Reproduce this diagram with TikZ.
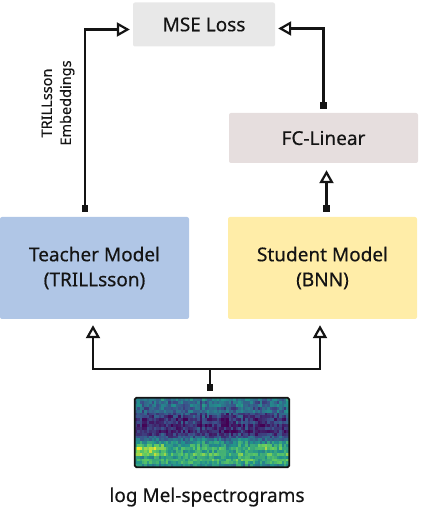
\documentclass[tikz,border=0pt]{standalone}
\usepackage{fontspec}
\setmainfont{Noto Sans}[FakeBold=0.4]
\usetikzlibrary{arrows.meta,positioning,calc}
\definecolor{ink}{RGB}{20,20,20}
\definecolor{lossgray}{RGB}{232,232,232}
\definecolor{fcgray}{RGB}{230,222,222}
\definecolor{teach}{RGB}{176,198,230}
\definecolor{stud}{RGB}{255,237,168}
% viridis steps for the spectrogram
\definecolor{v0}{RGB}{68,1,84}
\definecolor{v1}{RGB}{59,82,139}
\definecolor{v2}{RGB}{33,145,140}
\definecolor{v3}{RGB}{94,201,98}
\definecolor{v4}{RGB}{253,231,37}
\tikzset{
  >={Triangle[open,length=13pt,width=14pt]},
  block/.style={fill=#1,rounded corners=2pt,text=ink,align=center,inner sep=0pt,
    font=\fontsize{19}{25}\selectfont},
  block/.default=lossgray,
  link/.style={{Square[length=6.5pt,width=6.5pt]}->,line width=2.2pt,draw=ink},
  tag/.style={text=ink,align=center,font=\fontsize{#1}{19}\selectfont},
  tag/.default=19,
}

\begin{document}
\begin{tikzpicture}[x=1pt,y=1pt]
  \useasboundingbox (0,0) rectangle (420,510);
  % boxes
  \node[block=lossgray,minimum width=142pt,minimum height=44pt] (mse) at (204,485.5) {MSE Loss};
  \node[block=fcgray,minimum width=189pt,minimum height=50pt] (fc) at (323.5,372) {FC-Linear};
  \node[block=teach,minimum width=189pt,minimum height=102pt] (teacher) at (94.5,242) {Teacher Model\\(TRILLsson)};
  \node[block=stud,minimum width=189pt,minimum height=102pt] (student) at (322.5,242) {Student Model\\(BNN)};
  \node[minimum width=154pt,minimum height=69pt,inner sep=0pt] (spec) at (212,77.5) {};
  \node[tag] (melcap) at (207,13) {log Mel-spectrograms};
  \node[tag=14.5,rotate=90] (emb) at (58,407) {TRILLsson\\Embeddings};
  % spectrogram cells
  \pgfmathsetseed{5}
  \begin{scope}[shift={(spec.south west)}]
    \foreach \i in {0,...,63}{
      \pgfmathsetmacro\c{0.1*rnd-0.05}
      \foreach \j in {0,...,23}{
        \pgfmathsetmacro\b{{0.48,0.6,0.66,0.56,0.68,0.56,0.64,0.55,0.48,0.38,0.26,0.18,0.12,0.16,0.1,0.2,0.14,0.2,0.26,0.34,0.3,0.38,0.34,0.4}[\j]}
        \pgfmathsetmacro\v{\b+\c+0.26*rnd-0.13+0.16*and(\i<9,and(\j>4,\j<7))+0.1*and(\i<14,and(\j>3,\j<8))+0.16*and(\i>50,and(\i<57,and(\j>5,\j<8)))-0.12*and(\i==38,and(\j>2,\j<19))}
        \pgfmathsetmacro\v{min(max(\v,0),0.999)}
        \pgfmathtruncatemacro\k{int(4*\v)}
        \pgfmathtruncatemacro\kk{\k+1}
        \pgfmathtruncatemacro\p{100*(4*\v-\k)}
        \fill[v\kk!\p!v\k] (\i*2.406,\j*2.875) rectangle ++(2.7,3.1);
      }
    }
  \end{scope}
  \draw[ink,line width=1.8pt,rounded corners=1.5pt] (spec.south west) rectangle (spec.north east);
  % connectors
  \draw[link,shorten >=3pt] ([shift={(-9.5pt,5pt)}]teacher.north) |- ([yshift=-5pt]mse.west);
  \draw[link,shorten >=3pt] ([yshift=4pt]fc.north) |- ([yshift=-4pt]mse.east);
  \draw[link,shorten >=7pt] ([shift={(4pt,5pt)}]student.north) -- ([xshift=3pt]fc.south);
  \coordinate (split) at ([shift={(-2pt,29pt)}]spec.north);
  \draw[link,shorten >=6pt] ([shift={(-2pt,7pt)}]spec.north) -- (split) -| ([xshift=-1.5pt]teacher.south);
  \draw[link,shorten >=6pt] ([shift={(-2pt,7pt)}]spec.north) -- (split) -| ([xshift=-2.5pt]student.south);
\end{tikzpicture}
\end{document}
